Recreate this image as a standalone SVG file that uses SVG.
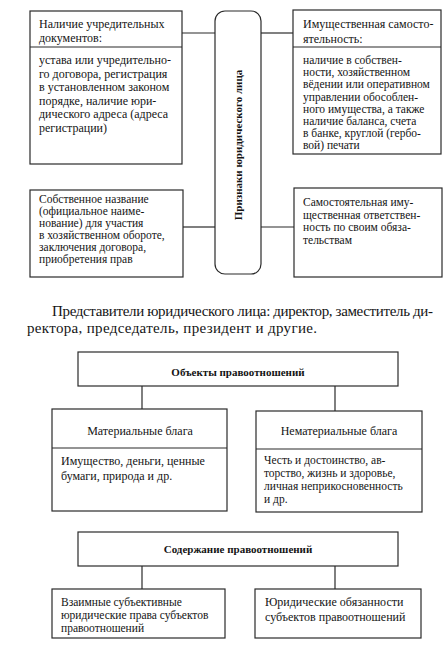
<svg xmlns="http://www.w3.org/2000/svg" width="444" height="646" viewBox="0 0 444 646">
<style>
.b{fill:none;stroke:#2a2a2a;stroke-width:1.2}
.c{stroke:#2a2a2a;stroke-width:1.2;fill:none}
text{font-family:"Liberation Serif","Times New Roman",serif;fill:#141414}
.t{font-size:12px}
.s{font-size:11.5px}
.h{font-size:11px;font-weight:bold}
.p{font-size:15px}
.m{text-anchor:middle}
</style>
<rect width="444" height="646" fill="#fff"/>
<g id="connectors">
<line class="c" x1="182" y1="33" x2="215" y2="33"/>
<line class="c" x1="261" y1="33" x2="293" y2="33"/>
<line class="c" x1="183" y1="227" x2="215" y2="227"/>
<line class="c" x1="261" y1="227" x2="294" y2="227"/>
<line class="c" x1="142" y1="386" x2="142" y2="409"/>
<line class="c" x1="335" y1="386" x2="335" y2="411"/>
<line class="c" x1="142" y1="566" x2="142" y2="589"/>
<line class="c" x1="335" y1="566" x2="335" y2="589"/>
</g>
<g id="center">
<rect class="b" x="215" y="11" width="46" height="263" rx="10"/>
<text class="h m" transform="translate(242,145) rotate(-90)">Признаки юридического лица</text>
</g>
<g id="docs">
<rect class="b" x="30" y="11" width="152" height="153"/>
<line class="c" x1="30" y1="47" x2="182" y2="47"/>
<text class="t" x="39" y="28">Наличие учредительных</text>
<text class="t" x="39" y="42">документов:</text>
<text class="t" x="39" y="64">устава или учредительно-</text>
<text class="t" x="39" y="77.5">го договора, регистрация</text>
<text class="t" x="39" y="91">в установленном законом</text>
<text class="t" x="39" y="104.5">порядке, наличие юри-</text>
<text class="t" x="39" y="118">дического адреса (адреса</text>
<text class="t" x="39" y="131.5">регистрации)</text>
</g>
<g id="property">
<rect class="b" x="293" y="10" width="148" height="144"/>
<line class="c" x1="293" y1="47" x2="441" y2="47"/>
<text class="t" x="303" y="28">Имущественная самосто-</text>
<text class="t" x="303" y="43">ятельность:</text>
<text class="s" x="303" y="64">наличие в собствен-</text>
<text class="s" x="303" y="76.2">ности, хозяйственном</text>
<text class="s" x="303" y="88.4">вёдении или оперативном</text>
<text class="s" x="303" y="100.6">управлении обособлен-</text>
<text class="s" x="303" y="112.8">ного имущества, а также</text>
<text class="s" x="303" y="125">наличие баланса, счета</text>
<text class="s" x="303" y="137.2">в банке, круглой (гербо-</text>
<text class="s" x="303" y="149.4">вой) печати</text>
</g>
<g id="name">
<rect class="b" x="30" y="190" width="153" height="87"/>
<text class="s" x="39" y="203">Собственное название</text>
<text class="s" x="39" y="215">(официальное наиме-</text>
<text class="s" x="39" y="227">нование) для участия</text>
<text class="s" x="39" y="239">в хозяйственном обороте,</text>
<text class="s" x="39" y="251">заключения договора,</text>
<text class="s" x="39" y="263">приобретения прав</text>
</g>
<g id="liability">
<rect class="b" x="294" y="188" width="148" height="89"/>
<text class="s" x="303" y="206">Самостоятельная иму-</text>
<text class="s" x="303" y="218.5">щественная ответствен-</text>
<text class="s" x="303" y="231">ность по своим обяза-</text>
<text class="s" x="303" y="243.5">тельствам</text>
</g>
<g id="paragraph">
<text class="p" x="52" y="316" textLength="381" lengthAdjust="spacing">Представители юридического лица: директор, заместитель ди-</text>
<text class="p" x="27" y="333" textLength="290" lengthAdjust="spacing">ректора, председатель, президент и другие.</text>
</g>
<g id="objects">
<rect class="b" x="78" y="352" width="320" height="34"/>
<text class="h m" x="238" y="376">Объекты правоотношений</text>
</g>
<g id="material">
<rect class="b" x="52" y="409" width="175" height="102"/>
<line class="c" x1="52" y1="448" x2="227" y2="448"/>
<text class="t m" x="140" y="435">Материальные блага</text>
<text class="t" x="61" y="465">Имущество, деньги, ценные</text>
<text class="t" x="61" y="480">бумаги, природа и др.</text>
</g>
<g id="nonmaterial">
<rect class="b" x="256" y="411" width="166" height="101"/>
<line class="c" x1="256" y1="449" x2="422" y2="449"/>
<text class="t m" x="339" y="435">Нематериальные блага</text>
<text class="s" x="264" y="464">Честь и достоинство, ав-</text>
<text class="s" x="264" y="477">торство, жизнь и здоровье,</text>
<text class="s" x="264" y="490">личная неприкосновенность</text>
<text class="s" x="264" y="503">и др.</text>
</g>
<g id="content">
<rect class="b" x="78" y="532" width="320" height="34"/>
<text class="h m" x="238" y="553">Содержание правоотношений</text>
</g>
<g id="rights">
<rect class="b" x="52" y="589" width="173" height="49"/>
<text class="s" x="61" y="605.5">Взаимные субъективные</text>
<text class="s" x="61" y="618.5">юридические права субъектов</text>
<text class="s" x="61" y="631.5">правоотношений</text>
</g>
<g id="duties">
<rect class="b" x="255" y="589" width="166" height="49"/>
<text class="t" x="265" y="606">Юридические обязанности</text>
<text class="t" x="265" y="621">субъектов правоотношений</text>
</g>
</svg>
